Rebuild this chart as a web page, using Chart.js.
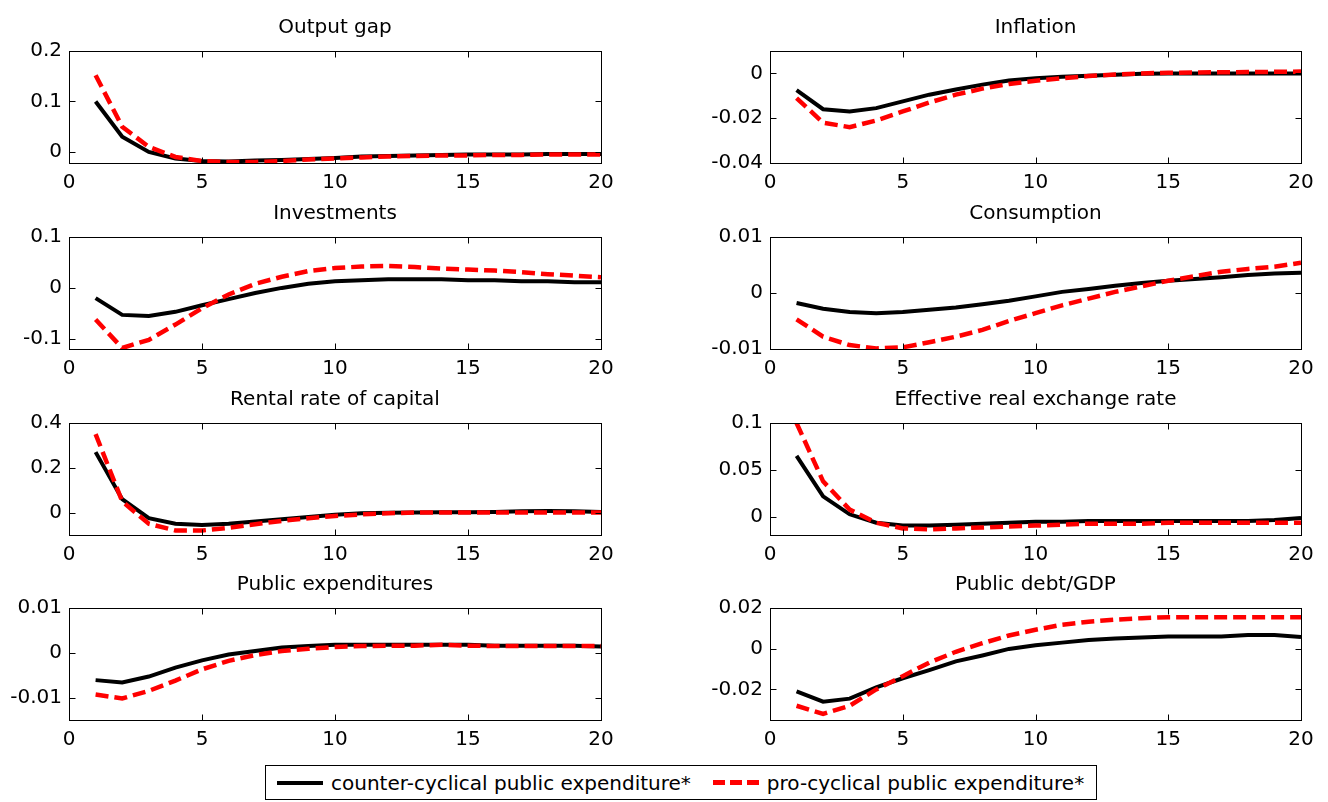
<!DOCTYPE html>
<html>
<head>
<meta charset="utf-8">
<script src="https://cdn.jsdelivr.net/npm/chart.js@4.4.1/dist/chart.umd.min.js"></script>
<style>
  html, body { margin:0; padding:0; background:#fff; width:1328px; height:802px; overflow:hidden; position:relative; }
  .panel { position:absolute; }
  #legend { position:absolute; left:265px; top:765px; width:832px; height:35px; border:1px solid #000; box-sizing:border-box;
            display:flex; align-items:center; padding-left:11px; font-family:"DejaVu Sans", sans-serif; font-size:20px; color:#000; background:#fff; white-space:nowrap; }
  .s-black { width:46px; height:4px; background:#000; margin-right:8px; flex:none; }
  .s-red { width:46px; height:5px; margin-left:22px; margin-right:8px; flex:none;
           background:repeating-linear-gradient(to right, #ff0000 0 12px, transparent 12px 17px); }
</style>
</head>
<body>
<div id="legend"><div class="s-black"></div><span>counter-cyclical public expenditure*</span><div class="s-red"></div><span>pro-cyclical public expenditure*</span></div>
<script>
// ---------------- data ----------------
const periods = [1,2,3,4,5,6,7,8,9,10,11,12,13,14,15,16,17,18,19,20];
const xTicks = [0,5,10,15,20];
const seriesNames = ['counter-cyclical public expenditure*', 'pro-cyclical public expenditure*'];
const panelTitles = ['Output gap','Inflation','Investments','Consumption','Rental rate of capital','Effective real exchange rate','Public expenditures','Public debt/GDP'];

const outputGapCounter = [0.100,0.030,0.000,-0.013,-0.018,-0.019,-0.017,-0.016,-0.014,-0.012,-0.009,-0.008,-0.007,-0.006,-0.005,-0.005,-0.005,-0.004,-0.004,-0.004];
const outputGapPro     = [0.152,0.050,0.010,-0.010,-0.018,-0.020,-0.020,-0.018,-0.015,-0.013,-0.011,-0.009,-0.008,-0.007,-0.007,-0.006,-0.006,-0.005,-0.005,-0.005];
const outputGapTicks = [0,0.1,0.2];
const outputGapRange = [-0.022,0.2];

const inflationCounter = [-0.0075,-0.016,-0.017,-0.0155,-0.0125,-0.0095,-0.0072,-0.005,-0.0032,-0.0022,-0.0015,-0.001,-0.0006,-0.0002,0,0,0,0,0,0];
const inflationPro     = [-0.011,-0.022,-0.024,-0.021,-0.017,-0.013,-0.0095,-0.0068,-0.0047,-0.0033,-0.0022,-0.0012,-0.0005,0,0.0003,0.0004,0.0005,0.0006,0.0007,0.0008];
const inflationTicks = [-0.04,-0.02,0];
const inflationRange = [-0.04,0.01];

const investCounter = [-0.020,-0.053,-0.055,-0.047,-0.034,-0.022,-0.010,0.000,0.008,0.013,0.015,0.017,0.017,0.017,0.015,0.015,0.013,0.013,0.011,0.011];
const investPro     = [-0.062,-0.118,-0.102,-0.072,-0.040,-0.013,0.008,0.022,0.033,0.039,0.042,0.043,0.041,0.038,0.036,0.034,0.031,0.027,0.024,0.021];
const investTicks = [-0.1,0,0.1];
const investRange = [-0.12,0.1];

const consCounter = [-0.0018,-0.0028,-0.0034,-0.0036,-0.0034,-0.0030,-0.0026,-0.0020,-0.0014,-0.0006,0.0002,0.0007,0.0013,0.0018,0.0022,0.0025,0.0028,0.0032,0.0035,0.0036];
const consPro     = [-0.0047,-0.0078,-0.0093,-0.0099,-0.0097,-0.0088,-0.0078,-0.0066,-0.0050,-0.0036,-0.0022,-0.0010,0.0002,0.0012,0.0022,0.0030,0.0038,0.0043,0.0047,0.0054];
const consTicks = [-0.01,0,0.01];
const consRange = [-0.01,0.01];

const rentalCounter = [0.27,0.06,-0.025,-0.05,-0.055,-0.05,-0.04,-0.03,-0.02,-0.01,-0.003,-0.001,0,0.002,0.002,0.003,0.006,0.007,0.006,0.003];
const rentalPro     = [0.35,0.05,-0.05,-0.08,-0.08,-0.068,-0.052,-0.037,-0.025,-0.015,-0.008,-0.003,0,0.001,0.001,0.001,0,0,0,0];
const rentalTicks = [0,0.2,0.4];
const rentalRange = [-0.1,0.4];

const rerCounter = [0.065,0.022,0.003,-0.006,-0.009,-0.009,-0.008,-0.007,-0.006,-0.005,-0.005,-0.004,-0.004,-0.004,-0.004,-0.004,-0.004,-0.004,-0.003,-0.001];
const rerPro     = [0.100,0.038,0.008,-0.006,-0.012,-0.013,-0.012,-0.011,-0.010,-0.009,-0.008,-0.007,-0.007,-0.007,-0.006,-0.006,-0.006,-0.006,-0.006,-0.006];
const rerTicks = [0,0.05,0.1];
const rerRange = [-0.019,0.1];

const pubExpCounter = [-0.0061,-0.0066,-0.0053,-0.0033,-0.0017,-0.0004,0.0004,0.0012,0.0015,0.0018,0.0018,0.0018,0.0018,0.0018,0.0018,0.0016,0.0016,0.0016,0.0016,0.0014];
const pubExpPro     = [-0.0093,-0.0102,-0.0085,-0.0062,-0.0037,-0.0018,-0.0005,0.0004,0.0009,0.0013,0.0015,0.0016,0.0016,0.0018,0.0016,0.0015,0.0015,0.0015,0.0015,0.0015];
const pubExpTicks = [-0.01,0,0.01];
const pubExpRange = [-0.015,0.01];

const debtCounter = [-0.021,-0.026,-0.0245,-0.019,-0.0145,-0.0105,-0.0062,-0.0033,-0.0001,0.0017,0.003,0.0043,0.005,0.0055,0.006,0.006,0.006,0.0067,0.0067,0.0058];
const debtPro     = [-0.028,-0.032,-0.028,-0.020,-0.0135,-0.0068,-0.0015,0.0027,0.0065,0.0093,0.0118,0.0133,0.0143,0.015,0.0155,0.0155,0.0155,0.0155,0.0155,0.0155];
const debtTicks = [-0.02,0,0.02];
const debtRange = [-0.035,0.02];

const counterSeries = [outputGapCounter, inflationCounter, investCounter, consCounter, rentalCounter, rerCounter, pubExpCounter, debtCounter];
const proSeries     = [outputGapPro, inflationPro, investPro, consPro, rentalPro, rerPro, pubExpPro, debtPro];
const yTickSets     = [outputGapTicks, inflationTicks, investTicks, consTicks, rentalTicks, rerTicks, pubExpTicks, debtTicks];
const yRanges       = [outputGapRange, inflationRange, investRange, consRange, rentalRange, rerRange, pubExpRange, debtRange];

// ---------------- layout ----------------
const rowTops = [51, 237, 423, 608];
const plotH = 112;
const titleH = 45;
const xAxisH = 34;
const cols = [
  { left: 0,   yW: 69, padR: 27, width: 628 },
  { left: 690, yW: 80, padR: 27, width: 638 }
];
const FONT = { family: '"DejaVu Sans", sans-serif', size: 20 };

function fmt(v) { return String(parseFloat(Number(v).toFixed(6))); }

const matlabBox = {
  id: 'matlabBox',
  afterDatasetsDraw(chart) {
    const { ctx, chartArea: a, scales: { x, y } } = chart;
    const L = Math.round(a.left) + 0.5, R = Math.round(a.right) + 0.5;
    const T = Math.round(a.top) + 0.5, B = Math.round(a.bottom) + 0.5;
    const tl = 6;
    ctx.save();
    ctx.strokeStyle = '#000';
    ctx.lineWidth = 1;
    ctx.beginPath();
    x.ticks.forEach(t => {
      const px = Math.round(x.getPixelForValue(t.value)) + 0.5;
      ctx.moveTo(px, B); ctx.lineTo(px, B - tl);
      ctx.moveTo(px, T); ctx.lineTo(px, T + tl);
    });
    y.ticks.forEach(t => {
      const py = Math.round(y.getPixelForValue(t.value)) + 0.5;
      ctx.moveTo(L, py); ctx.lineTo(L + tl, py);
      ctx.moveTo(R, py); ctx.lineTo(R - tl, py);
    });
    ctx.stroke();
    ctx.strokeRect(L, T, R - L, B - T);
    ctx.restore();
  }
};

panelTitles.forEach((title, i) => {
  const col = cols[i % 2];
  const row = Math.floor(i / 2);
  const div = document.createElement('div');
  div.className = 'panel';
  div.style.left = col.left + 'px';
  div.style.top = (rowTops[row] - titleH) + 'px';
  const cv = document.createElement('canvas');
  cv.width = col.width;
  cv.height = titleH + plotH + xAxisH;
  cv.style.width = col.width + 'px';
  cv.style.height = cv.height + 'px';
  div.appendChild(cv);
  document.body.appendChild(div);

  const ticksY = yTickSets[i];
  const range = yRanges[i];

  new Chart(cv, {
    type: 'line',
    data: {
      datasets: [
        {
          label: seriesNames[1],
          data: periods.map((p, k) => ({ x: p, y: proSeries[i][k] })),
          borderColor: '#ff0000',
          borderWidth: 4.5,
          borderDash: [13, 6],
          pointRadius: 0,
          tension: 0,
          fill: false,
          order: 0
        },
        {
          label: seriesNames[0],
          data: periods.map((p, k) => ({ x: p, y: counterSeries[i][k] })),
          borderColor: '#000000',
          borderWidth: 4,
          pointRadius: 0,
          tension: 0,
          fill: false,
          order: 1
        }
      ]
    },
    options: {
      responsive: false,
      devicePixelRatio: 1,
      animation: false,
      events: [],
      layout: { padding: { left: 0, right: col.padR, top: 0, bottom: 0 } },
      plugins: {
        legend: { display: false },
        tooltip: { enabled: false },
        title: { display: false }
      },
      scales: {
        xTop: {
          type: 'linear',
          position: 'top',
          axis: 'x',
          min: xTicks[0],
          max: xTicks[xTicks.length - 1],
          grid: { display: false, drawTicks: false },
          border: { display: false },
          ticks: { display: false },
          afterFit: s => { s.height = titleH; },
          title: {
            display: true,
            text: title,
            color: '#000',
            font: { family: FONT.family, size: 20, weight: 'normal' },
            padding: { top: 10, bottom: 11 }
          }
        },
        x: {
          type: 'linear',
          position: 'bottom',
          min: xTicks[0],
          max: xTicks[xTicks.length - 1],
          grid: { display: false, drawTicks: false },
          border: { display: false },
          afterBuildTicks: s => { s.ticks = xTicks.map(v => ({ value: v })); },
          afterFit: s => { s.height = xAxisH; },
          ticks: { color: '#000', font: FONT, padding: 8, maxRotation: 0, autoSkip: false, callback: v => fmt(v) }
        },
        y: {
          type: 'linear',
          min: range[0],
          max: range[1],
          grid: { display: false, drawTicks: false },
          border: { display: false },
          afterBuildTicks: s => { s.ticks = ticksY.map(v => ({ value: v })); },
          afterFit: s => { s.width = col.yW; },
          ticks: { color: '#000', font: FONT, padding: 7, autoSkip: false, callback: v => fmt(v) }
        }
      }
    },
    plugins: [matlabBox]
  });
});
</script>
</body>
</html>
